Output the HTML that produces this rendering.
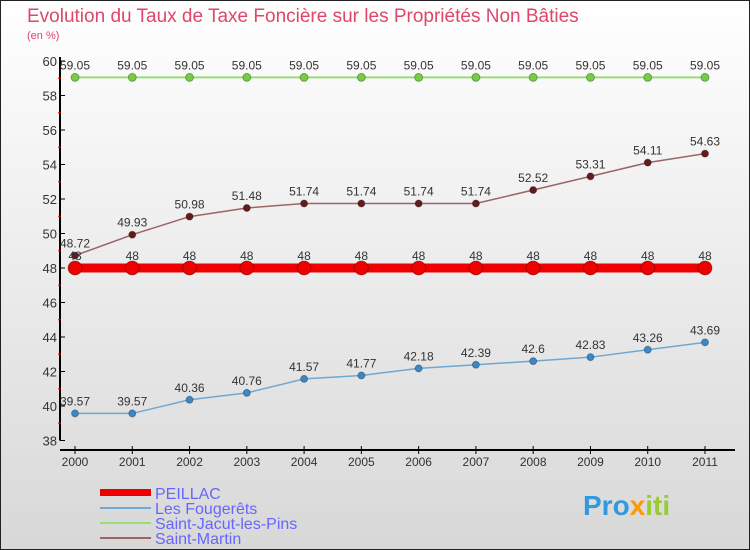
<!DOCTYPE html>
<html><head><meta charset="utf-8"><style>
body{margin:0;}
#c{width:750px;height:550px;position:relative;overflow:hidden;}
svg{display:block;font-family:"Liberation Sans",sans-serif;}
</style></head><body>
<div id="c">
<svg id="s" width="750" height="550">
<defs><linearGradient id="bg" x1="0" y1="0" x2="0" y2="1"><stop offset="0" stop-color="#ffffff"/><stop offset="1" stop-color="#d8d8d8"/></linearGradient></defs>
<rect x="0.5" y="0.5" width="749" height="549" fill="url(#bg)" stroke="#222"/>
<text x="27" y="22" font-size="19" fill="#e0456a">Evolution du Taux de Taxe Foncière sur les Propriétés Non Bâties</text>
<text x="27" y="39" font-size="11" fill="#e0456a">(en %)</text>
<g id="g"></g>
<g>
<rect x="100" y="489" width="51" height="7" fill="#ee0000"/>
<text x="155" y="499" font-size="16" fill="#6666ff">PEILLAC</text>
<rect x="100" y="507" width="51" height="2" fill="#6fa8d0"/>
<text x="155" y="514" font-size="16" fill="#6666ff">Les Fougerêts</text>
<rect x="100" y="522" width="51" height="2" fill="#99dd77"/>
<text x="155" y="529" font-size="16" fill="#6666ff">Saint-Jacut-les-Pins</text>
<rect x="100" y="537" width="51" height="2" fill="#996666"/>
<text x="155" y="544" font-size="16" fill="#6666ff">Saint-Martin</text>
</g>
<text x="583" y="515" font-size="28" font-weight="bold" fill="#3399dd">Pro<tspan fill="#ff9900">x</tspan><tspan fill="#99cc33">iti</tspan></text>
</svg></div>
<script>
const years=[2000,2001,2002,2003,2004,2005,2006,2007,2008,2009,2010,2011];
const yTicks=[38,40,42,44,46,48,50,52,54,56,58,60];
const peillac=[48,48,48,48,48,48,48,48,48,48,48,48];
const fougerets=[39.57,39.57,40.36,40.76,41.57,41.77,42.18,42.39,42.6,42.83,43.26,43.69];
const saintJacut=[59.05,59.05,59.05,59.05,59.05,59.05,59.05,59.05,59.05,59.05,59.05,59.05];
const saintMartin=[48.72,49.93,50.98,51.48,51.74,51.74,51.74,51.74,52.52,53.31,54.11,54.63];
const NS='http://www.w3.org/2000/svg';
const g=document.getElementById('g');
const xS=i=>75+i*(705-75)/(years.length-1);
const yS=v=>268-(v-48)*17.25;
function mk(t,a,p){const e=document.createElementNS(NS,t);for(const k in a)e.setAttribute(k,a[k]);(p||g).appendChild(e);return e;}
// axes
let ax=mk('line',{x1:60,y1:57,x2:60,y2:yS(38),stroke:'#000','stroke-width':2});


let xa=mk('line',{x1:60,y1:450,x2:735,y2:450,stroke:'#000','stroke-width':2});


yTicks.forEach(v=>{
  mk('line',{x1:60,y1:yS(v),x2:65,y2:yS(v),stroke:'#000'});
  if(v<60){mk('line',{x1:58,y1:yS(v+1),x2:61,y2:yS(v+1),stroke:'#e00'});}
  const t=mk('text',{x:57,y:yS(v)+5,'text-anchor':'end','font-size':13,fill:'#333'});
  t.textContent=v;
  
  
});
years.forEach((yr,i)=>{
  mk('line',{x1:xS(i),y1:446,x2:xS(i),y2:454,stroke:'#000'});
  const t=mk('text',{x:xS(i),y:466,'text-anchor':'middle','font-size':12,fill:'#333'});
  t.textContent=yr;
  
  
});
function series(vals,col,w,r,name,dot){
  const pts=vals.map((v,i)=>xS(i)+','+yS(v)).join(' ');
  const pl=mk('polyline',{points:pts,fill:'none',stroke:col,'stroke-width':w});
  
  
  vals.forEach((v,i)=>{
    const c=mk('circle',{cx:xS(i),cy:yS(v),r:r,fill:dot,stroke:'rgba(0,0,0,0.3)'});
    
    
    const t=mk('text',{x:xS(i),y:yS(v)-8,'text-anchor':'middle','font-size':12,fill:'#333'});
    t.textContent=v;
    
    
  });
}
series(saintJacut,'#99dd77',2,4,'saint-jacut','#77cc44');
series(saintMartin,'#996666',1.5,3.5,'saint-martin','#661a1a');
series(fougerets,'#6fa8d0',1.5,3.5,'fougerets','#3a88c8');
series(peillac,'#ee0000',9,7,'peillac','#ee0000');
</script>
</body></html>
